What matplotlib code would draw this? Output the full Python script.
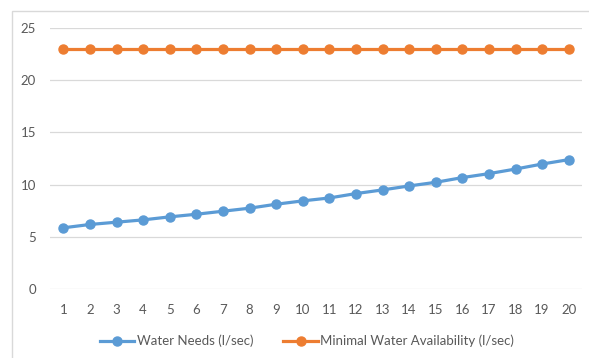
import matplotlib
matplotlib.use("Agg")
import matplotlib.pyplot as plt
from matplotlib.patches import Rectangle

plt.rcParams['font.family'] = ['Lato', 'DejaVu Sans']

years = list(range(1, 21))
water_needs = [5.86, 6.18, 6.40, 6.62, 6.91, 7.16, 7.45, 7.74, 8.12, 8.44,
               8.72, 9.14, 9.49, 9.87, 10.22, 10.67, 11.05, 11.49, 11.97, 12.39]
min_availability = [23] * 20
yticks = [0, 5, 10, 15, 20, 25]

W, H = 589, 358
fig = plt.figure(figsize=(W / 100, H / 100), dpi=100)
ax = fig.add_axes([50 / W, 1 - 289 / H, (582 - 50) / W, (289 - 28) / H])

# chart frame (cropped in the reference)
fig.patches.append(Rectangle((12 / W, -0.2), 1.2, 1.2 - 11 / H, transform=fig.transFigure,
                             fill=False, edgecolor='#d9d9d9', linewidth=1.0, zorder=0))

x = list(range(len(years)))
ax.plot(x, water_needs, color='#5B9BD5', lw=2.3, marker='o', markersize=6.5,
        label='Water Needs (l/sec)', zorder=3)
ax.plot(x, min_availability, color='#ED7D31', lw=2.3, marker='o', markersize=6.5,
        label='Minimal Water Availability (l/sec)', zorder=3)

ax.set_xlim(-0.5, len(years) - 0.5)
ax.set_ylim(0, 25)
ax.set_yticks(yticks)
ax.set_xticks(x)
ax.set_xticklabels([str(y) for y in years])
ax.grid(axis='y', color='#d9d9d9', lw=0.9)
ax.set_axisbelow(True)
for s in ax.spines.values():
    s.set_visible(False)
ax.tick_params(length=0, labelsize=9.5, labelcolor='#595959')
ax.tick_params(axis='x', pad=11)
ax.tick_params(axis='y', pad=10)

fig.legend(loc='center', bbox_to_anchor=(307 / W, 1 - 341 / H), ncol=2, frameon=False,
           fontsize=9.5, handlelength=2.6, handletextpad=0.2, columnspacing=2.3,
           labelcolor='#595959')

fig.savefig('out.png', dpi=100)
